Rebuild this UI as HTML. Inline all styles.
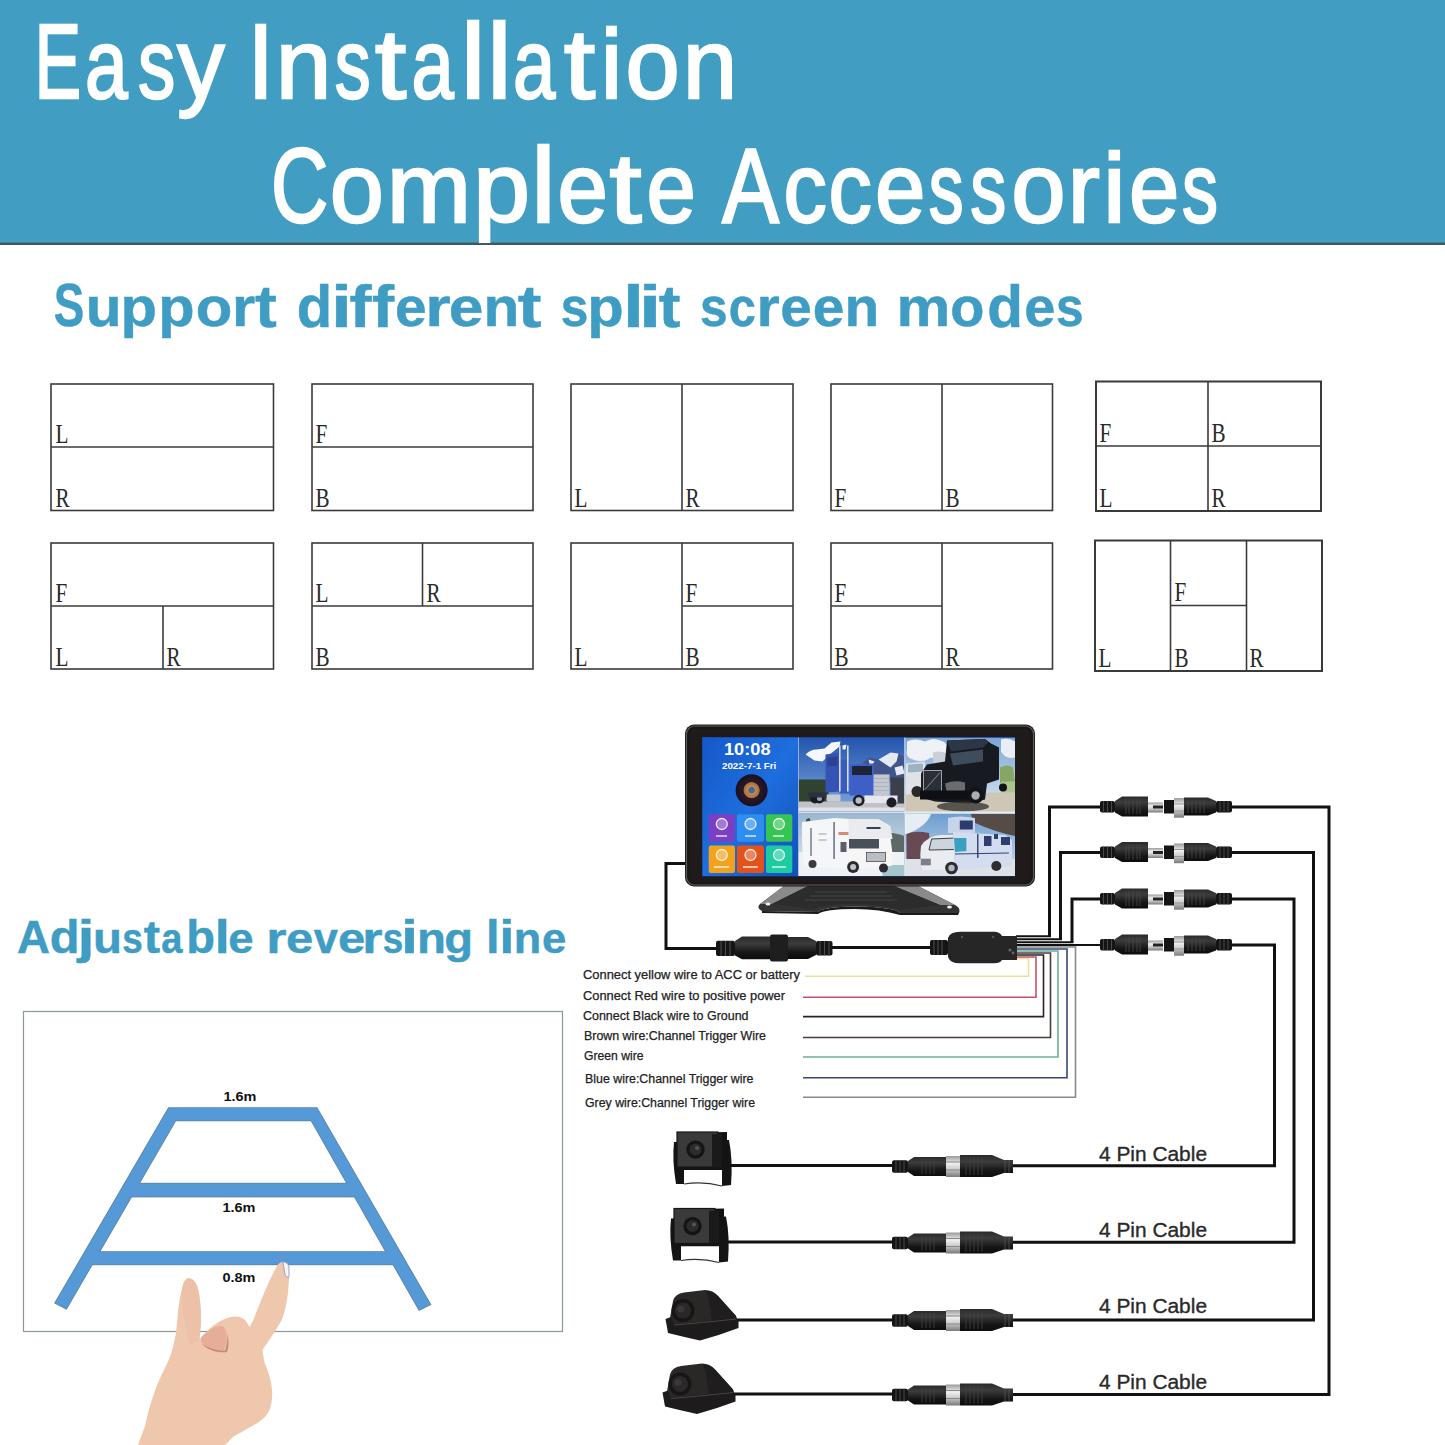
<!DOCTYPE html>
<html><head><meta charset="utf-8">
<title>Easy Installation Complete Accessories</title>
<style>
html,body{margin:0;padding:0;background:#fff;}
body{width:1445px;height:1445px;overflow:hidden;position:relative;font-family:"Liberation Sans",sans-serif;}
.banner{position:absolute;left:0;top:0;width:1445px;height:245px;background:linear-gradient(to bottom,#419ec2 0,#419ec2 240px,#4aa0bc 241px,#4c9fb4 242px,#3d5f6b 243px,#3a5864 244.5px,#dfe9ec 245px);}
svg{position:absolute;left:0;top:0;}
</style></head><body>
<div class="banner"></div>
<svg width="1445" height="1445" viewBox="0 0 1445 1445">
<!--HEAD-->
<clipPath id="bc"><rect x="0" y="0" width="1445" height="243"/></clipPath>
<g font-family="Liberation Sans, sans-serif" font-size="106" fill="#fff" stroke="#fff" stroke-width="2.5" clip-path="url(#bc)">
<text x="34.61" y="97.6" textLength="46.64" lengthAdjust="spacingAndGlyphs">E</text><text x="247.84" y="97.6" textLength="25.92" lengthAdjust="spacingAndGlyphs">I</text><text x="460.99" y="97.6" textLength="24.27" lengthAdjust="spacingAndGlyphs">l</text><text x="487.39" y="97.6" textLength="24.27" lengthAdjust="spacingAndGlyphs">l</text>
<g transform="matrix(1 0 0 0.93 0 6.832)"><text x="85.09" y="97.6" textLength="42.66" lengthAdjust="spacingAndGlyphs">a</text><text x="138.08" y="97.6" textLength="37.27" lengthAdjust="spacingAndGlyphs">s</text><text x="177.22" y="97.6" textLength="47.32" lengthAdjust="spacingAndGlyphs">y</text><text x="275.71" y="97.6" textLength="55.64" lengthAdjust="spacingAndGlyphs">n</text><text x="334.85" y="97.6" textLength="35.89" lengthAdjust="spacingAndGlyphs">s</text><text x="374.95" y="97.6" textLength="31.22" lengthAdjust="spacingAndGlyphs">t</text><text x="411.52" y="97.6" textLength="42.23" lengthAdjust="spacingAndGlyphs">a</text><text x="513.12" y="97.6" textLength="42.23" lengthAdjust="spacingAndGlyphs">a</text><text x="563.95" y="97.6" textLength="31.12" lengthAdjust="spacingAndGlyphs">t</text><text x="600.78" y="97.6" textLength="21.49" lengthAdjust="spacingAndGlyphs">i</text><text x="625.56" y="97.6" textLength="54.18" lengthAdjust="spacingAndGlyphs">o</text><text x="682.85" y="97.6" textLength="54.46" lengthAdjust="spacingAndGlyphs">n</text></g>
<text x="270.92" y="222" textLength="57.24" lengthAdjust="spacingAndGlyphs">C</text><text x="531.39" y="222" textLength="24.27" lengthAdjust="spacingAndGlyphs">l</text><text x="722.18" y="222" textLength="56.63" lengthAdjust="spacingAndGlyphs">A</text>
<g transform="matrix(1 0 0 0.93 0 15.540)"><text x="329.67" y="222" textLength="54.06" lengthAdjust="spacingAndGlyphs">o</text><text x="386.72" y="222" textLength="84.41" lengthAdjust="spacingAndGlyphs">m</text><text x="473.37" y="222" textLength="56.76" lengthAdjust="spacingAndGlyphs">p</text><text x="557.40" y="222" textLength="50.37" lengthAdjust="spacingAndGlyphs">e</text><text x="609.60" y="222" textLength="32.09" lengthAdjust="spacingAndGlyphs">t</text><text x="646.58" y="222" textLength="49.31" lengthAdjust="spacingAndGlyphs">e</text><text x="783.47" y="222" textLength="43.26" lengthAdjust="spacingAndGlyphs">c</text><text x="828.47" y="222" textLength="43.26" lengthAdjust="spacingAndGlyphs">c</text><text x="875.00" y="222" textLength="50.37" lengthAdjust="spacingAndGlyphs">e</text><text x="928.81" y="222" textLength="34.86" lengthAdjust="spacingAndGlyphs">s</text><text x="970.25" y="222" textLength="36.01" lengthAdjust="spacingAndGlyphs">s</text><text x="1011.25" y="222" textLength="54.30" lengthAdjust="spacingAndGlyphs">o</text><text x="1067.65" y="222" textLength="32.10" lengthAdjust="spacingAndGlyphs">r</text><text x="1102.90" y="222" textLength="22.75" lengthAdjust="spacingAndGlyphs">i</text><text x="1128.91" y="222" textLength="50.25" lengthAdjust="spacingAndGlyphs">e</text><text x="1182.05" y="222" textLength="36.01" lengthAdjust="spacingAndGlyphs">s</text></g>
</g>
<g font-family="Liberation Sans, sans-serif" font-weight="bold" font-size="59" fill="#3f9cc3" stroke="#3f9cc3" stroke-width="0.5">
<text x="254.95" y="326.5" textLength="21.80" lengthAdjust="spacingAndGlyphs">t</text><text x="296.87" y="326.5" textLength="35.40" lengthAdjust="spacingAndGlyphs">d</text><text x="330.91" y="326.5" textLength="20.86" lengthAdjust="spacingAndGlyphs">i</text><text x="349.42" y="326.5" textLength="22.10" lengthAdjust="spacingAndGlyphs">f</text><text x="371.92" y="326.5" textLength="22.10" lengthAdjust="spacingAndGlyphs">f</text><text x="517.88" y="326.5" textLength="23.74" lengthAdjust="spacingAndGlyphs">t</text><text x="622.91" y="326.5" textLength="20.86" lengthAdjust="spacingAndGlyphs">l</text><text x="638.65" y="326.5" textLength="22.68" lengthAdjust="spacingAndGlyphs">i</text><text x="658.85" y="326.5" textLength="21.69" lengthAdjust="spacingAndGlyphs">t</text><text x="987.35" y="326.5" textLength="35.76" lengthAdjust="spacingAndGlyphs">d</text><g transform="matrix(1 0 0 0.94 0 19.590)"><text x="85.72" y="326.5" textLength="35.80" lengthAdjust="spacingAndGlyphs">u</text><text x="120.51" y="326.5" textLength="36.49" lengthAdjust="spacingAndGlyphs">p</text><text x="158.33" y="326.5" textLength="36.37" lengthAdjust="spacingAndGlyphs">p</text><text x="195.81" y="326.5" textLength="36.58" lengthAdjust="spacingAndGlyphs">o</text><text x="232.01" y="326.5" textLength="23.24" lengthAdjust="spacingAndGlyphs">r</text><text x="395.03" y="326.5" textLength="31.67" lengthAdjust="spacingAndGlyphs">e</text><text x="425.33" y="326.5" textLength="25.51" lengthAdjust="spacingAndGlyphs">r</text><text x="448.82" y="326.5" textLength="34.67" lengthAdjust="spacingAndGlyphs">e</text><text x="483.39" y="326.5" textLength="35.80" lengthAdjust="spacingAndGlyphs">n</text><text x="560.71" y="326.5" textLength="27.58" lengthAdjust="spacingAndGlyphs">s</text><text x="587.31" y="326.5" textLength="36.49" lengthAdjust="spacingAndGlyphs">p</text><text x="700.11" y="326.5" textLength="27.58" lengthAdjust="spacingAndGlyphs">s</text><text x="728.74" y="326.5" textLength="27.14" lengthAdjust="spacingAndGlyphs">c</text><text x="756.41" y="326.5" textLength="23.24" lengthAdjust="spacingAndGlyphs">r</text><text x="780.23" y="326.5" textLength="31.56" lengthAdjust="spacingAndGlyphs">e</text><text x="812.63" y="326.5" textLength="31.56" lengthAdjust="spacingAndGlyphs">e</text><text x="844.41" y="326.5" textLength="34.66" lengthAdjust="spacingAndGlyphs">n</text><text x="896.56" y="326.5" textLength="53.85" lengthAdjust="spacingAndGlyphs">m</text><text x="950.26" y="326.5" textLength="34.17" lengthAdjust="spacingAndGlyphs">o</text><text x="1024.17" y="326.5" textLength="31.10" lengthAdjust="spacingAndGlyphs">e</text><text x="1055.91" y="326.5" textLength="27.58" lengthAdjust="spacingAndGlyphs">s</text></g><g transform="matrix(1 0 0 1.03 0 -9.795)"><text x="53.83" y="326.5" textLength="30.50" lengthAdjust="spacingAndGlyphs">S</text></g>
</g>
<g font-family="Liberation Sans, sans-serif" font-weight="bold" font-size="46" fill="#3f9cc3" stroke="#3f9cc3" stroke-width="0.5">
<text x="49.75" y="953" textLength="29.82" lengthAdjust="spacingAndGlyphs">d</text><text x="77.78" y="953" textLength="16.56" lengthAdjust="spacingAndGlyphs">j</text><text x="143.75" y="953" textLength="16.29" lengthAdjust="spacingAndGlyphs">t</text><text x="186.25" y="953" textLength="28.73" lengthAdjust="spacingAndGlyphs">b</text><text x="215.04" y="953" textLength="14.78" lengthAdjust="spacingAndGlyphs">l</text><text x="401.38" y="953" textLength="16.60" lengthAdjust="spacingAndGlyphs">i</text><text x="486.14" y="953" textLength="13.57" lengthAdjust="spacingAndGlyphs">l</text><text x="499.64" y="953" textLength="14.78" lengthAdjust="spacingAndGlyphs">i</text><g transform="matrix(1 0 0 0.925 0 71.475)"><text x="92.91" y="953" textLength="28.97" lengthAdjust="spacingAndGlyphs">u</text><text x="122.25" y="953" textLength="20.51" lengthAdjust="spacingAndGlyphs">s</text><text x="161.33" y="953" textLength="21.17" lengthAdjust="spacingAndGlyphs">a</text><text x="228.17" y="953" textLength="25.34" lengthAdjust="spacingAndGlyphs">e</text><text x="266.33" y="953" textLength="20.21" lengthAdjust="spacingAndGlyphs">r</text><text x="286.03" y="953" textLength="27.29" lengthAdjust="spacingAndGlyphs">e</text><text x="313.68" y="953" textLength="24.16" lengthAdjust="spacingAndGlyphs">v</text><text x="337.93" y="953" textLength="27.29" lengthAdjust="spacingAndGlyphs">e</text><text x="362.33" y="953" textLength="20.21" lengthAdjust="spacingAndGlyphs">r</text><text x="382.65" y="953" textLength="20.51" lengthAdjust="spacingAndGlyphs">s</text><text x="417.12" y="953" textLength="28.97" lengthAdjust="spacingAndGlyphs">n</text><text x="444.32" y="953" textLength="28.79" lengthAdjust="spacingAndGlyphs">g</text><text x="513.69" y="953" textLength="27.45" lengthAdjust="spacingAndGlyphs">n</text><text x="542.04" y="953" textLength="24.30" lengthAdjust="spacingAndGlyphs">e</text></g><g transform="matrix(1 0 0 1 0 0.000)"><text x="16.91" y="953" textLength="32.94" lengthAdjust="spacingAndGlyphs">A</text></g>
</g>
<!--/HEAD-->

<!--SPLIT-->
<g fill="none" stroke="#3a3a3a" stroke-width="1.6">
<rect x="51" y="384" width="222.5" height="126.5"/><line x1="51" y1="447" x2="273.5" y2="447"/>
<rect x="312" y="384" width="221" height="126.5"/><line x1="312" y1="447" x2="533" y2="447"/>
<rect x="571" y="384" width="222" height="126.5"/><line x1="682" y1="384" x2="682" y2="510.5"/>
<rect x="831" y="384" width="221.5" height="126.5"/><line x1="942" y1="384" x2="942" y2="510.5"/>
<rect x="1096" y="381.5" width="225" height="129.5" stroke-width="2"/><line x1="1208" y1="381.5" x2="1208" y2="511"/><line x1="1096" y1="446" x2="1321" y2="446"/>

<rect x="51" y="543" width="222.5" height="126"/><line x1="51" y1="606" x2="273.5" y2="606"/><line x1="163" y1="606" x2="163" y2="669"/>
<rect x="312" y="543" width="221" height="126"/><line x1="312" y1="606" x2="533" y2="606"/><line x1="422.5" y1="543" x2="422.5" y2="606"/>
<rect x="571" y="543" width="222" height="126"/><line x1="682" y1="543" x2="682" y2="669"/><line x1="682" y1="606" x2="793" y2="606"/>
<rect x="831" y="543" width="221.5" height="126"/><line x1="942" y1="543" x2="942" y2="669"/><line x1="831" y1="606" x2="942" y2="606"/>
<rect x="1095" y="540.5" width="227" height="130.5" stroke-width="2"/><line x1="1170.5" y1="540.5" x2="1170.5" y2="671"/><line x1="1246.5" y1="540.5" x2="1246.5" y2="671"/><line x1="1170.5" y1="605.5" x2="1246.5" y2="605.5"/>
</g>
<g font-family="Liberation Serif, serif" font-size="26.5" fill="#2a2a2a">
<text x="55.5" y="443" textLength="13.0" lengthAdjust="spacingAndGlyphs">L</text><text x="55.5" y="507" textLength="14.1" lengthAdjust="spacingAndGlyphs">R</text>
<text x="315.5" y="443" textLength="11.8" lengthAdjust="spacingAndGlyphs">F</text><text x="315.5" y="507" textLength="14.1" lengthAdjust="spacingAndGlyphs">B</text>
<text x="574.5" y="507" textLength="13.0" lengthAdjust="spacingAndGlyphs">L</text><text x="685.5" y="507" textLength="14.1" lengthAdjust="spacingAndGlyphs">R</text>
<text x="834.5" y="507" textLength="11.8" lengthAdjust="spacingAndGlyphs">F</text><text x="945.5" y="507" textLength="14.1" lengthAdjust="spacingAndGlyphs">B</text>
<text x="1099.5" y="442" textLength="11.8" lengthAdjust="spacingAndGlyphs">F</text><text x="1211.5" y="442" textLength="14.1" lengthAdjust="spacingAndGlyphs">B</text><text x="1099.5" y="507" textLength="13.0" lengthAdjust="spacingAndGlyphs">L</text><text x="1211.5" y="507" textLength="14.1" lengthAdjust="spacingAndGlyphs">R</text>

<text x="55.5" y="602" textLength="11.8" lengthAdjust="spacingAndGlyphs">F</text><text x="55.5" y="666" textLength="13.0" lengthAdjust="spacingAndGlyphs">L</text><text x="166.5" y="666" textLength="14.1" lengthAdjust="spacingAndGlyphs">R</text>
<text x="315.5" y="602" textLength="13.0" lengthAdjust="spacingAndGlyphs">L</text><text x="426.5" y="602" textLength="14.1" lengthAdjust="spacingAndGlyphs">R</text><text x="315.5" y="666" textLength="14.1" lengthAdjust="spacingAndGlyphs">B</text>
<text x="574.5" y="666" textLength="13.0" lengthAdjust="spacingAndGlyphs">L</text><text x="685.5" y="602" textLength="11.8" lengthAdjust="spacingAndGlyphs">F</text><text x="685.5" y="666" textLength="14.1" lengthAdjust="spacingAndGlyphs">B</text>
<text x="834.5" y="602" textLength="11.8" lengthAdjust="spacingAndGlyphs">F</text><text x="834.5" y="666" textLength="14.1" lengthAdjust="spacingAndGlyphs">B</text><text x="945.5" y="666" textLength="14.1" lengthAdjust="spacingAndGlyphs">R</text>
<text x="1098.5" y="667" textLength="13.0" lengthAdjust="spacingAndGlyphs">L</text><text x="1174.5" y="601" textLength="11.8" lengthAdjust="spacingAndGlyphs">F</text><text x="1174.5" y="667" textLength="14.1" lengthAdjust="spacingAndGlyphs">B</text><text x="1249.5" y="667" textLength="14.1" lengthAdjust="spacingAndGlyphs">R</text>
</g>
<!--/SPLIT-->

<!--REV-->
<rect x="23.5" y="1011.5" width="539" height="320" fill="none" stroke="#8d979e" stroke-width="1.2"/>
<defs><g id="trap">
<polygon points="168.7,1108 316.8,1108 430.3,1304.5 419.2,1310 311.3,1120.4 175.6,1120.4 66.3,1308.7 55.2,1303"/>
<rect x="128" y="1183.6" width="229" height="13"/>
<rect x="88" y="1252" width="308" height="12.4"/>
</g></defs>
<use href="#trap" fill="#5f82a2" stroke="#5f82a2" stroke-width="1.6"/>
<use href="#trap" fill="#5599d6"/>
<g font-family="Liberation Sans, sans-serif" font-weight="bold" font-size="13" fill="#111">
<text x="223.5" y="1100.5" textLength="33" lengthAdjust="spacingAndGlyphs">1.6m</text>
<text x="222.5" y="1212.4" textLength="33" lengthAdjust="spacingAndGlyphs">1.6m</text>
<text x="222.5" y="1281.8" textLength="33" lengthAdjust="spacingAndGlyphs">0.8m</text>
</g>
<g id="hand">
<path d="M138 1445 L145 1426 C149 1408 155 1388 162 1374 C167 1364 171 1356 173 1347 L176 1333 L177.4 1319 C178.5 1305 180 1296 181.6 1291 C183 1283 185 1278.4 188.5 1278.2 C193 1278.5 196 1282 197.5 1287 C200 1296 201.5 1310 200.8 1325 L199.5 1340 C205 1334 210 1327 217 1323 C224 1318.5 230 1316.3 235 1316.4 C240 1316.5 244 1318 246 1321 L249.4 1327 L252.9 1321 C260 1303 268 1282 277 1266 C279 1262.5 282 1261.5 284 1261.8 C287 1262.5 289 1264 289 1268 L289 1278 C288.5 1290 287.5 1298 286 1305 C284.5 1312 283.5 1316 281.5 1320 C278 1327 275 1331 272 1336 L262.6 1349.7 C263 1354 263.5 1358 264.5 1362 C266.5 1368 268.5 1372 270 1378 C272 1386 272.5 1392 272 1398 C271.5 1404 270.5 1409 268 1413 C264 1419 258 1423 252 1426 C245 1430 238 1434 233 1437 L225 1445 Z" fill="#efc7ad"/>
<path d="M200.5 1338 C205 1333 211 1328 218 1326 C223 1325 226 1328 226.5 1334 C227 1340 226 1346 224 1350 C217 1350 210 1349 204 1346 C202 1344 201 1341 200.5 1338 Z" fill="#e6ad97"/>
<path d="M202 1344 C208 1348 216 1350.5 225 1350.5 C227 1346 227.5 1340 227 1334 C229 1340 229 1347 227 1352 C218 1353 209 1351 202 1344 Z" fill="#b87868" fill-opacity="0.75"/>
<path d="M181.6 1291 C183 1283 185 1278.4 188.5 1278.2 C193 1278.5 196 1282 197.5 1287 C200 1296 201.5 1310 200.8 1325 L199.5 1340 L190 1345 C186 1330 182 1310 181.6 1291 Z" fill="#e9bda3" fill-opacity="0.6"/>
<path d="M283 1262 C286 1262 289 1264 289 1268 L289 1277 C287 1278 285 1276 284.5 1272 C284 1268 283 1264 283 1262 Z" fill="#f4f4fa" stroke="#8090b0" stroke-width="0.8"/>
</g>
<!--/REV-->

<!--DIAG-->
<defs>
<linearGradient id="silv" x1="0" y1="0" x2="0" y2="1"><stop offset="0" stop-color="#9a9a9a"/><stop offset="0.35" stop-color="#f0f0f0"/><stop offset="0.6" stop-color="#cfcfcf"/><stop offset="1" stop-color="#7a7a7a"/></linearGradient>
<linearGradient id="blk" x1="0" y1="0" x2="0" y2="1"><stop offset="0" stop-color="#2a2a2a"/><stop offset="0.3" stop-color="#3c3c3c"/><stop offset="0.7" stop-color="#161616"/><stop offset="1" stop-color="#0c0c0c"/></linearGradient>
<g id="conBig">
 <rect x="0" y="-6" width="15" height="11.5" rx="2" fill="#151515"/>
 <path d="M3.5 -6v11.5M7.5 -6v11.5M11.5 -6v11.5" stroke="#555" stroke-width="0.8"/>
 <path d="M15 -6 L22 -10.6 L48 -10.6 L48 9.6 L22 9.6 L15 5.5 Z" fill="url(#blk)"/>
 <path d="M26 -8v15M29 -8v15M33 -8v15M37 -8v15M40 -8v15" stroke="#4a4a4a" stroke-width="0.8"/>
 <rect x="48" y="-4.5" width="15" height="10" fill="url(#silv)"/>
 <rect x="53" y="-1.5" width="10" height="3" fill="#222"/>
 <rect x="64" y="-7" width="10" height="13.5" fill="#141414"/>
 <rect x="74" y="-9" width="10" height="19.7" fill="url(#silv)"/>
 <path d="M74 -3h10M74 4h10" stroke="#999" stroke-width="1"/>
 <path d="M84 -9.6 L108 -9.6 L116 -6 L116 5.5 L108 8.6 L84 8.6 Z" fill="url(#blk)"/>
 <path d="M88 -7v13M92 -7v13M96 -7v13M100 -7v13M104 -7v13" stroke="#4a4a4a" stroke-width="0.8"/>
 <rect x="116" y="-6" width="16" height="11.5" rx="2" fill="#151515"/>
 <path d="M120 -6v11.5M124 -6v11.5M128 -6v11.5" stroke="#555" stroke-width="0.8"/>
</g>
<g id="conSm">
 <rect x="0" y="-5.7" width="16" height="12.4" rx="2" fill="#151515"/>
 <path d="M4 -5.7v12.4M8 -5.7v12.4M12 -5.7v12.4" stroke="#555" stroke-width="0.8"/>
 <path d="M16 -5 L22 -9 L54 -9 L54 10 L22 10 L16 6 Z" fill="url(#blk)"/>
 <path d="M30 -7v15M34 -7v15M38 -7v15M42 -7v15" stroke="#444" stroke-width="0.8"/>
 <rect x="54" y="-10" width="14" height="21" fill="url(#silv)"/>
 <path d="M54 -4h14M54 4h14" stroke="#888" stroke-width="1"/>
 <path d="M68 -11 L100 -11 L112 -6 L121 -6 L121 7 L112 7 L100 11 L68 11 Z" fill="url(#blk)"/>
 <path d="M74 -9v18M78 -9v18M82 -9v18M86 -9v18M90 -9v18" stroke="#444" stroke-width="0.8"/>
 <path d="M113 -6v13M117 -6v13" stroke="#555" stroke-width="0.8"/>
</g>
</defs>

<!-- wires (black) -->
<g fill="none" stroke="#111" stroke-width="3" stroke-linejoin="miter">
 <polyline points="686,863.4 666,863.4 666,948.5 720,948.5"/>
 <polyline points="830,947.5 932,947.5"/>
 <polyline points="1049.5,937 1049.5,807 1102,807"/>
 <polyline points="1060.5,939.5 1060.5,852.5 1102,852.5"/>
 <polyline points="1072,942 1072,899 1102,899"/>
 <polyline points="1016,945 1102,945" stroke-width="2.2"/>
 <polyline points="1016,936.3 1051,936.3" stroke-width="2"/>
 <polyline points="1016,939.2 1062,939.2" stroke-width="2"/>
 <polyline points="1016,942.2 1073.5,942.2" stroke-width="2"/>
 <polyline points="1230,807 1329,807 1329,1394.4 1011,1394.4"/>
 <polyline points="1230,852.5 1313.5,852.5 1313.5,1320 1011,1320"/>
 <polyline points="1230,899 1294,899 1294,1242.3 1011,1242.3"/>
 <polyline points="1230,945 1274.5,945 1274.5,1165.7 1011,1165.7"/>
 <line x1="722" y1="1165.5" x2="894" y2="1165.5"/>
 <line x1="719" y1="1242" x2="894" y2="1242"/>
 <line x1="728" y1="1320" x2="894" y2="1320"/>
 <line x1="726" y1="1394" x2="894" y2="1394"/>
</g>
<!-- colored wires -->
<g fill="none" stroke-width="1.6">
 <polyline stroke="#e8e296" points="1016,958.5 1028.5,958.5 1028.5,976.2 805,976.2"/>
 <polyline stroke="#c8506a" points="1016,957 1036,957 1036,997.2 803,997.2"/>
 <polyline stroke="#252525" points="1016,955 1043.5,955 1043.5,1016.6 803,1016.6"/>
 <polyline stroke="#4a3e3a" points="1016,953 1050.5,953 1050.5,1037.5 803,1037.5"/>
 <polyline stroke="#6cae98" points="1016,951 1058,951 1058,1057 803,1057"/>
 <polyline stroke="#3b4474" points="1016,949 1067,949 1067,1077.8 803,1077.8"/>
 <polyline stroke="#8a8a8a" points="1016,947 1075.5,947 1075.5,1097.2 803,1097.2"/>
</g>

<!-- connectors -->
<use href="#conBig" x="1100" y="807"/>
<use href="#conBig" x="1100" y="852.5"/>
<use href="#conBig" x="1100" y="899"/>
<use href="#conBig" x="1100" y="945"/>
<use href="#conSm" x="892" y="1166"/>
<use href="#conSm" x="892" y="1242.5"/>
<use href="#conSm" x="892" y="1320"/>
<use href="#conSm" x="892" y="1394.5"/>

<!-- monitor wire connector -->
<g>
 <rect x="716" y="940.7" width="19" height="15.2" rx="2" fill="#151515"/>
 <path d="M721 941v15M725.5 941v15M730 941v15" stroke="#555" stroke-width="0.9"/>
 <path d="M735 941 L742 936.5 L770.5 936.5 L770.5 959.3 L742 959.3 L735 955.5 Z" fill="url(#blk)"/>
 <rect x="770" y="934.4" width="18" height="27" rx="2" fill="#1e1e1e"/>
 <path d="M788 937 L808 937 L816 941 L816 955 L808 959 L788 959 Z" fill="url(#blk)"/>
 <rect x="816" y="941" width="16.5" height="14.5" rx="2" fill="#151515"/>
 <path d="M820 941v14.5M824.5 941v14.5M829 941v14.5" stroke="#555" stroke-width="0.9"/>
</g>
<!-- junction box -->
<g>
 <rect x="930" y="940" width="18" height="15" rx="2" fill="#151515"/>
 <path d="M934 940v15M938 940v15M942 940v15" stroke="#555" stroke-width="0.9"/>
 <path d="M948 938 Q950 931.7 960 931.7 L995 931.7 Q1000 932 1002 936 L1017 936 L1017 960 L1002 960 Q1000 963.3 994 963.3 L960 963.3 Q950 963.3 948 957 Z" fill="#262626"/>
 <circle cx="962" cy="937" r="1.2" fill="#555"/><circle cx="993" cy="937" r="1.2" fill="#555"/>
 <circle cx="1010" cy="950" r="1.6" fill="#666"/><circle cx="1013" cy="953" r="1.4" fill="#666"/>
</g>

<!-- labels -->
<g font-family="Liberation Sans, sans-serif" font-size="12.3" fill="#222" stroke="#222" stroke-width="0.25">
 <text x="583" y="978.6" textLength="217" lengthAdjust="spacingAndGlyphs">Connect yellow wire to ACC or battery</text>
 <text x="583" y="999.8" textLength="202" lengthAdjust="spacingAndGlyphs">Connect Red wire to positive power</text>
 <text x="583" y="1019.7" textLength="165.5" lengthAdjust="spacingAndGlyphs">Connect Black wire to Ground</text>
 <text x="584" y="1040" textLength="182" lengthAdjust="spacingAndGlyphs">Brown wire:Channel Trigger Wire</text>
 <text x="584" y="1059.5" textLength="59.5" lengthAdjust="spacingAndGlyphs">Green wire</text>
 <text x="585" y="1083" textLength="168.5" lengthAdjust="spacingAndGlyphs">Blue wire:Channel Trigger wire</text>
 <text x="585" y="1107" textLength="170" lengthAdjust="spacingAndGlyphs">Grey wire:Channel Trigger wire</text>
</g>
<g font-family="Liberation Sans, sans-serif" font-size="20.5" fill="#2a2a2a" stroke="#2a2a2a" stroke-width="0.35">
 <text x="1099" y="1161" textLength="108" lengthAdjust="spacingAndGlyphs">4 Pin Cable</text>
 <text x="1099" y="1237" textLength="108" lengthAdjust="spacingAndGlyphs">4 Pin Cable</text>
 <text x="1099" y="1313" textLength="108" lengthAdjust="spacingAndGlyphs">4 Pin Cable</text>
 <text x="1099" y="1388.5" textLength="108" lengthAdjust="spacingAndGlyphs">4 Pin Cable</text>
</g>

<!-- cameras: box type -->
<g id="camBox">
 <path d="M680 1133 L727 1132 L727 1167 L718 1168 Z" fill="#111"/>
 <path d="M674 1142 Q672 1160 676 1184 L684 1184 L684 1170 L722 1170 L722 1186 L731 1185 Q733 1160 729 1140 Z" fill="#141414"/>
 <rect x="684" y="1170" width="38" height="14" fill="#fff"/>
 <path d="M684 1184 Q703 1181 722 1186" stroke="#333" stroke-width="1.2" fill="none"/>
 <rect x="677" y="1132" width="41" height="35" fill="#3a3a3a" stroke="#151515" stroke-width="1.2"/>
 <rect x="712" y="1134" width="10" height="33" fill="#1a1a1a"/>
 <circle cx="695.5" cy="1149.6" r="9.2" fill="#141414"/>
 <circle cx="695.5" cy="1149.6" r="6" fill="#2c2c2c"/>
 <circle cx="697" cy="1148" r="2" fill="#555"/>
</g>
<use href="#camBox" x="-3" y="76.5"/>

<!-- cameras: dome type -->
<g id="camDome">
 <path d="M667 1326 L670 1318 L673 1301 Q675 1293.5 684 1292.5 L705 1290 Q713 1290 718 1296 L736 1316 L737.5 1322 L690 1327 Z" fill="#2a2727"/>
 <path d="M706 1291 Q713 1291 718 1296 L736 1316 L737 1320 L712 1322 Q710 1300 706 1291 Z" fill="#1f1d1d"/>
 <path d="M665.5 1319 L671 1317 L674 1324 Q700 1322 736 1318 L738.5 1321 L738.5 1328 Q720 1335 700 1340.5 Q684 1337 668 1333 Z" fill="#1d1b1b"/>
 <path d="M674 1325 Q700 1323 736 1319" stroke="#4a4646" stroke-width="1" fill="none"/>
 <circle cx="683" cy="1310.5" r="11.5" fill="#171515"/>
 <circle cx="683" cy="1310.5" r="8" fill="#2a2828"/>
 <circle cx="681" cy="1309" r="3.5" fill="#3a3838"/>
</g>
<use href="#camDome" x="-3" y="73.5"/>

<!--MONITOR-->
<g>
 <!-- stand -->
 <path d="M784 886 L918 886 L955 905 Q961 908 959 913 L900 913 Q895 907 855 906.5 Q822 907 818 912 L762 911 Q756 908 760 904 Z" fill="#333"/>
 <path d="M784 886 L808 886 L772 904 L760 904 Z" fill="#8a8a8a"/>
 <path d="M894 886 L918 886 L955 905 L940 905 Z" fill="#8a8a8a"/>
 <path d="M808 886 L894 886 L940 905 L900 910 Q880 904 855 904 Q826 904 812 909 L772 904 Z" fill="#2c2c2c"/>
 <path d="M815 892h72M810 896h82M805 900h92" stroke="#444" stroke-width="1"/>
 <path d="M762 911 L818 912 Q822 907 855 906.5 Q895 907 900 913 L959 913 L958 915 L900 915 Q880 909 855 909 Q825 909 818 914 L762 913 Z" fill="#1a1a1a"/>
 <ellipse cx="768" cy="904" rx="2.5" ry="1.6" fill="#eee"/>
 <ellipse cx="949.5" cy="907" rx="2.5" ry="1.6" fill="#eee"/>
 <!-- bezel -->
 <rect x="685" y="724.5" width="350" height="162" rx="9" fill="#1f1b1a"/>
 <rect x="686.5" y="726" width="347" height="159" rx="8" fill="none" stroke="#5e5a58" stroke-width="1.2"/>
 <rect x="688.5" y="728" width="343" height="155" rx="7" fill="none" stroke="#1a1716" stroke-width="2"/>
 <!-- screen -->
 <rect x="702" y="737" width="313" height="139.5" fill="#0f3f9a"/>
 <defs>
  <linearGradient id="lp" x1="0" y1="0" x2="1" y2="1"><stop offset="0" stop-color="#1558c8"/><stop offset="0.5" stop-color="#1e6ede"/><stop offset="1" stop-color="#1350b8"/></linearGradient>
  <linearGradient id="sky1" x1="0" y1="0" x2="0" y2="1"><stop offset="0" stop-color="#2455ae"/><stop offset="1" stop-color="#7fa7dc"/></linearGradient>
  <linearGradient id="sky2" x1="0" y1="0" x2="0" y2="1"><stop offset="0" stop-color="#7ba4d6"/><stop offset="1" stop-color="#dfe9f2"/></linearGradient>
  <linearGradient id="sky3" x1="0" y1="0" x2="0" y2="1"><stop offset="0" stop-color="#9ab8cf"/><stop offset="1" stop-color="#e6eef4"/></linearGradient>
  <linearGradient id="sky4" x1="0" y1="0" x2="0" y2="1"><stop offset="0" stop-color="#6b9bd0"/><stop offset="1" stop-color="#cfe0ef"/></linearGradient>
  <radialGradient id="disc"><stop offset="0" stop-color="#3a6aa8"/><stop offset="0.18" stop-color="#3a6aa8"/><stop offset="0.22" stop-color="#c98a4a"/><stop offset="0.48" stop-color="#a87040"/><stop offset="0.52" stop-color="#2a1a28"/><stop offset="1" stop-color="#1a1020"/></radialGradient>
 </defs>
 <rect x="702.5" y="737.5" width="96" height="138.5" fill="url(#lp)"/>
 <text x="724" y="755.3" font-family="Liberation Sans, sans-serif" font-weight="bold" font-size="17" fill="#fff" textLength="46.5" lengthAdjust="spacingAndGlyphs">10:08</text>
 <text x="722" y="769.2" font-family="Liberation Sans, sans-serif" font-weight="bold" font-size="9.4" fill="#fff" textLength="54.3" lengthAdjust="spacingAndGlyphs">2022-7-1 Fri</text>
 <circle cx="751.6" cy="790.2" r="16" fill="url(#disc)"/>
 <rect x="708.7" y="814.2" width="26.3" height="27.6" rx="2" fill="#7b3fc4"/>
 <rect x="737" y="814.2" width="27" height="27.6" rx="2" fill="#2d8ef0"/>
 <rect x="766" y="814.2" width="26.3" height="27.6" rx="2" fill="#36c452"/>
 <rect x="708.7" y="845.4" width="26.3" height="27.6" rx="2" fill="#f2a21c"/>
 <rect x="737" y="845.4" width="27" height="27.6" rx="2" fill="#e2531c"/>
 <rect x="766" y="845.4" width="26.3" height="27.6" rx="2" fill="#1dcaa2"/>
 <g fill="#fff" fill-opacity="0.3" stroke="#fff" stroke-opacity="0.85" stroke-width="1.3">
  <circle cx="721.8" cy="824" r="5.5"/><circle cx="750.5" cy="824" r="5.5"/><circle cx="779" cy="824" r="5.5"/>
  <circle cx="721.8" cy="855" r="5.5"/><circle cx="750.5" cy="855" r="5.5"/><circle cx="779" cy="855" r="5.5"/>
 </g>
 <g fill="#fff" fill-opacity="0.6">
  <rect x="716" y="835" width="11" height="2"/><rect x="745" y="835" width="11" height="2"/><rect x="773" y="835" width="11" height="2"/>
  <rect x="714" y="866" width="15" height="2"/><rect x="743" y="866" width="15" height="2"/><rect x="772" y="866" width="14" height="2"/>
 </g>
 <!-- photo TL: blue truck -->
 <svg x="798.5" y="737.5" width="106" height="74" viewBox="0 0 106 74">
  <rect width="106" height="74" fill="url(#sky1)"/>
  <path d="M7 17 Q12 12 18 12 L26 11 L33 5 L42 4 L41 9 L30 18 L24 24 L16 23 Z" fill="#f4f7fb"/>
  <path d="M44 8 L48 7 L47 12 L44 12 Z" fill="#eef2f8"/>
  <path d="M60 30 L70 20 L80 22 L92 15 L100 16 L106 20 L106 44 L60 44 Z" fill="#41558a"/>
  <path d="M80 22 L92 15 L100 16 L98 24 L92 30 L86 26 Z M70 22 L76 24 L72 30 Z M96 30 L104 28 L106 36 L98 38 Z" fill="#e4ebf5"/>
  <rect x="0" y="42" width="30" height="24" fill="#2f4330"/>
  <rect x="0" y="64" width="106" height="10" fill="#bfc3c8"/>
  <rect x="0" y="70" width="106" height="4" fill="#dfe2e6"/>
  <rect x="92" y="40" width="14" height="26" fill="#3a3f4a"/>
  <path d="M27 17 L41 15 L41 54 L27 55 Z" fill="#3453b4"/>
  <path d="M29 20 L39 19 L39 28 L29 29 Z" fill="#2a428f"/>
  <path d="M41 22 L51 22 L51 56 L41 56 Z" fill="#3a5ac0"/>
  <path d="M51 27 L75 26 L76 58 L51 58 Z" fill="#3d5fc8"/>
  <rect x="53.5" y="28.5" width="20" height="9" fill="#1d2536"/>
  <rect x="75" y="37" width="16" height="21" fill="#c3c7cf"/>
  <path d="M75 37h16M75 41h16M75 45h16M75 49h16M75 53h16" stroke="#9ca2ac" stroke-width="0.6"/>
  <rect x="66" y="58" width="33" height="7.5" fill="#e6e8ec"/>
  <rect x="28" y="57" width="14" height="7" fill="#c9ccd2"/>
  <rect x="40.5" y="8" width="1.6" height="46" fill="#d9dce2"/>
  <rect x="48.5" y="8" width="1.6" height="46" fill="#d9dce2"/>
  <circle cx="60.2" cy="63" r="5.8" fill="#1c1c22"/><circle cx="60.2" cy="63" r="3.2" fill="#b8bcc4"/>
  <circle cx="16.5" cy="61" r="5" fill="#1c1c22"/><circle cx="21" cy="61" r="5" fill="#1c1c22"/><circle cx="21" cy="61" r="2.5" fill="#9aa0aa"/>
  <circle cx="93" cy="65" r="5" fill="#1c1c22"/>
  <rect x="10" y="55" width="18" height="5" fill="#2a2f44"/>
 </svg>
 <!-- photo TR: black truck -->
 <svg x="905" y="737.5" width="110" height="74.5" viewBox="0 0 110 74.5">
  <rect width="110" height="74.5" fill="url(#sky2)"/>
  <path d="M2 4 Q10 0 20 4 Q28 -1 38 4 Q46 8 42 18 Q36 24 26 20 Q18 26 8 22 Q0 20 2 12 Z" fill="#eef2f6"/>
  <path d="M96 2 Q104 0 110 4 L110 20 Q100 22 96 14 Z" fill="#e8eef4"/>
  <rect x="0" y="55" width="110" height="20" fill="#cfc7b6"/>
  <path d="M95 30 Q102 26 108 30 L110 44 L95 46 Z" fill="#86a763"/>
  <rect x="96" y="44" width="14" height="11" fill="#a9c48c"/>
  <path d="M1 26 L20 24 L21 56 L1 57 Z" fill="#dfe3e8"/>
  <path d="M3 27 L18 26 L18 34 L3 35 Z" fill="#9fb2c4"/>
  <circle cx="12" cy="54" r="5.5" fill="#2a2a2a"/>
  <path d="M28 15 Q36 12 44 17 L44 25 L28 26 Z" fill="#c9d0d8"/>
  <path d="M42 3 L80 1.5 L86 6 L94 10 L94 42 L82 46 L80 62 L64 66 L30 64 L16 60 L16 36 L22 27 L40 24 Z" fill="#171a21"/>
  <path d="M42 3 L80 1.5 L83 5 L78 10 L46 14 Z" fill="#2c3646"/>
  <path d="M45 16 L78 12 L78 24 L48 28 Z" fill="#3f4c5c"/>
  <rect x="18.5" y="33" width="18" height="21" fill="#2b2f36" stroke="#aab0b8" stroke-width="0.9"/>
  <path d="M20 52 L35 35" stroke="#9aa0a8" stroke-width="0.8"/>
  <path d="M40 46 Q50 42 60 45 L60 55 L42 56 Z" fill="#6a6c72"/>
  <rect x="15" y="53" width="50" height="9" fill="#0e0f13"/>
  <ellipse cx="58" cy="69" rx="26" ry="5" fill="#3a3834" fill-opacity="0.8"/>
  <circle cx="70.6" cy="58" r="8" fill="#121317"/><circle cx="70.6" cy="58" r="4.2" fill="#a9adb4"/>
  <circle cx="98" cy="50" r="4" fill="#121317"/>
 </svg>
 <!-- photo BL: white RV -->
 <svg x="798.5" y="814" width="106" height="62" viewBox="0 0 106 62">
  <rect width="106" height="62" fill="url(#sky3)"/>
  <path d="M5 16 L8 5 L11 4 L13 10 L14 16 Z" fill="#3f4b4c"/>
  <path d="M78 20 Q90 16 106 22 L106 40 L78 40 Z" fill="#5e6866"/>
  <rect x="0" y="38" width="106" height="24" fill="#eef2f5"/>
  <rect x="84" y="51" width="22" height="11" fill="#a3c6cb"/>
  <path d="M3.5 8 L36 4 L52 5 L52 55 L6 52 Q3 40 3.5 8 Z" fill="#f5f6f7"/>
  <path d="M50 5 L80 5 L92 12 L94 25 L50 26 Z" fill="#e9ebee"/>
  <path d="M68 14 h14" stroke="#3a4050" stroke-width="2"/>
  <path d="M40 18 L50 18 L50 21 L40 21 Z" fill="#d78a7a"/>
  <path d="M50 25 L92 24 L94 40 L93 52 L52 55 Z" fill="#f6f6f7"/>
  <rect x="50.5" y="25" width="30" height="9.5" fill="#4a5058"/>
  <rect x="68" y="38.5" width="19" height="9" fill="#b9bec5" stroke="#4c5058" stroke-width="0.8"/>
  <rect x="42" y="28" width="6" height="10" fill="#5a606a"/>
  <rect x="11.8" y="14" width="1.4" height="28" fill="#707680"/>
  <rect x="34.8" y="8" width="1.6" height="37" fill="#707680"/>
  <path d="M20 20 h8 M20 26 h8" stroke="#9aa0a8" stroke-width="1.2"/>
  <circle cx="54.6" cy="53" r="6" fill="#2c2c30"/><circle cx="54.6" cy="53" r="3" fill="#c0c4ca"/>
  <circle cx="85" cy="54" r="4.5" fill="#2c2c30"/>
  <circle cx="14" cy="50" r="4" fill="#3a3a40"/>
 </svg>
 <!-- photo BR: RV -->
 <svg x="905" y="812" width="110" height="64" viewBox="0 0 110 64">
  <rect width="110" height="64" fill="url(#sky4)"/>
  <path d="M0 2 L26 2 Q22 14 2 22 L0 22 Z" fill="#e6edf4"/>
  <path d="M66 2 L110 2 L110 24 Q90 20 68 10 Z" fill="#554c47"/>
  <path d="M1.5 22 Q10 18 24 21 L26 48 L1.5 48 Z" fill="#674a55"/>
  <rect x="0" y="47" width="110" height="17" fill="#dde2e8"/>
  <path d="M16 34 Q22 24 36 23 L48 23 L50 58 L18 58 Q14 50 16 34 Z" fill="#e9edf1"/>
  <path d="M26.6 27 L49.8 26 L49.5 37.5 L24 38 Z" fill="#cdd5dc" stroke="#3a4048" stroke-width="1"/>
  <path d="M43 6 Q54 3 70 6 L70 21 L43 21 Z" fill="#c8d4ea"/>
  <rect x="54.8" y="8.5" width="13" height="9" fill="#2b3b6b"/>
  <path d="M48 20 L100 23 L107 28 L107 54 L50 58 Z" fill="#d3ddef"/>
  <path d="M49 26 L61.4 26 L61.4 39 L50 40 Z" fill="#3aa0c0"/>
  <rect x="79" y="24" width="7.5" height="10" fill="#2d3e70"/>
  <rect x="89" y="22" width="4" height="5" fill="#2d3e70"/>
  <rect x="96" y="25" width="9" height="8" fill="#2d3e70"/>
  <rect x="72" y="22" width="1.5" height="24" fill="#3a4a78"/>
  <path d="M50 42 L104 41" stroke="#344478" stroke-width="1.2"/>
  <rect x="15.8" y="46.7" width="10" height="6.6" fill="#7c8088"/>
  <circle cx="46.5" cy="56" r="6.3" fill="#2c2c32"/><circle cx="46.5" cy="56" r="3.2" fill="#b4b8c0"/>
  <circle cx="91.3" cy="54" r="5" fill="#2c2c32"/>
 </svg>
 <!-- divider lines -->
 <rect x="798" y="737.5" width="1" height="138.5" fill="#e0e8f0" fill-opacity="0.6"/>
 <rect x="904.2" y="737.5" width="1" height="138.5" fill="#fff" fill-opacity="0.8"/>
 <rect x="798.5" y="811.5" width="216.5" height="2.2" fill="#eef2f6" fill-opacity="0.9"/>
</g>
<!--/MONITOR-->
<!--/DIAG-->
</svg>
</body></html>
